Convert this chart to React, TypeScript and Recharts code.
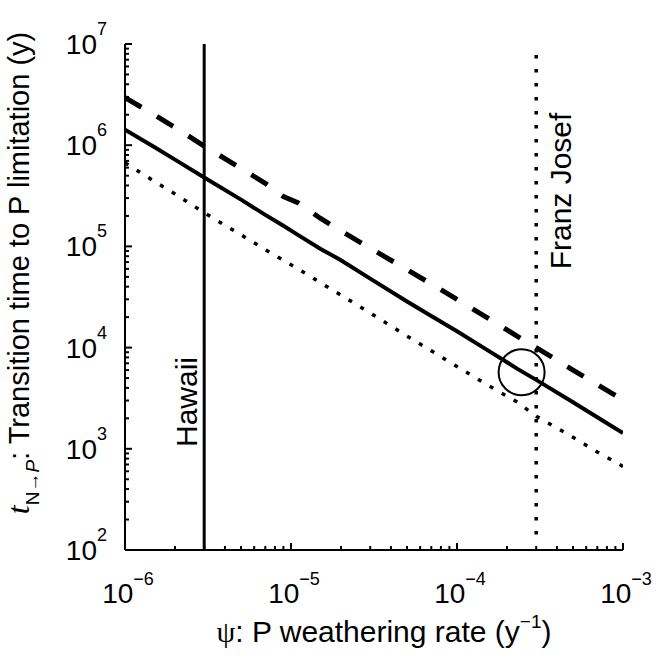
import React from 'react';
import { LineChart, Line, XAxis, YAxis, ReferenceLine, ReferenceDot, Label } from 'recharts';

const FONT = '"Liberation Sans", Arial, Helvetica, sans-serif';

// psi: P weathering rate (1/y)
const psi = [1e-6, 1.5e-6, 2e-6, 3e-6, 5e-6, 7e-6, 9e-6, 1.1e-5, 1.5e-5, 2e-5, 3e-5, 5e-5, 7e-5, 1e-4, 1.5e-4, 2.3e-4, 3e-4, 5e-4, 7e-4, 1e-3];
// transition time (y) for the three curves
const tSolid = [1.42e6, 9.6e5, 7.2e5, 4.8e5, 2.9e5, 2.05e5, 1.6e5, 1.3e5, 9.5e4, 7.3e4, 4.8e4, 2.85e4, 2.05e4, 1.45e4, 9.6e3, 6.2e3, 4.8e3, 2.88e3, 2.05e3, 1.43e3];
const tDashed = [2.95e6, 2.0e6, 1.5e6, 9.8e5, 5.9e5, 4.2e5, 3.1e5, 2.7e5, 1.9e5, 1.42e5, 9.6e4, 5.9e4, 4.25e4, 3.0e4, 2.0e4, 1.3e4, 1.0e4, 6.0e3, 4.3e3, 3.05e3];
const tDotted = [6.7e5, 4.4e5, 3.3e5, 2.15e5, 1.3e5, 9.3e4, 7.3e4, 6.0e4, 4.4e4, 3.3e4, 2.2e4, 1.3e4, 9.3e3, 6.5e3, 4.35e3, 2.9e3, 2.1e3, 1.3e3, 9.3e2, 6.7e2];

const hawaiiPsi = 3e-6;
const franzPsi = 3e-4;
const circlePoint = { x: 2.45e-4, y: 5.7e3 };

const xMajor = [1e-6, 1e-5, 1e-4, 1e-3];
const xExp = ['\u22126', '\u22125', '\u22124', '\u22123'];
const yMajor = [1e2, 1e3, 1e4, 1e5, 1e6, 1e7];
const yExp = ['2', '3', '4', '5', '6', '7'];
const minorMult = [2, 3, 4, 5, 6, 7, 8, 9];

const withMinor = (majors: number[]) => {
  const out: number[] = [];
  majors.forEach((m, i) => {
    out.push(m);
    if (i < majors.length - 1) minorMult.forEach(k => out.push(m * k));
  });
  return out;
};
const xTicks = withMinor(xMajor);
const yTicks = withMinor(yMajor);

const rows = psi.map((x, i) => ({ x, solid: tSolid[i], dashed: tDashed[i], dotted: tDotted[i] }));

const majorIndex = (v: number, majors: number[]) => majors.findIndex(m => Math.abs(v / m - 1) < 1e-6);

function XTick({ x, y, payload }: any) {
  const i = majorIndex(payload.value, xMajor);
  return (
    <g>
      <line x1={x} x2={x} y1={y} y2={y - (i >= 0 ? 7 : 4)} stroke="#000" strokeWidth={2} />
      {i >= 0 && (
        <text x={x + 3} y={y + 53} textAnchor="middle" fontFamily={FONT} fontSize={28} fill="#000">
          10<tspan fontSize={18} dy={-18}>{xExp[i]}</tspan>
        </text>
      )}
    </g>
  );
}

function YTick({ x, y, payload }: any) {
  const i = majorIndex(payload.value, yMajor);
  return (
    <g>
      <line x1={x} x2={x + (i >= 0 ? 7 : 4)} y1={y} y2={y} stroke="#000" strokeWidth={2} />
      {i >= 0 && (
        <text x={x - 18} y={y + 10} textAnchor="end" fontFamily={FONT} fontSize={28} fill="#000">
          10<tspan fontSize={18} dy={-19}>{yExp[i]}</tspan>
        </text>
      )}
    </g>
  );
}

const YTitle = () => (
  <text x={29} y={273} transform="rotate(-90, 29, 273)" textAnchor="middle" fontFamily={FONT} fontSize={29} fill="#000">
    <tspan fontStyle="italic" fontFamily='"Liberation Serif", serif' fontSize={32}>t</tspan>
    <tspan fontSize={19} dy={10}>N→</tspan>
    <tspan fontSize={19} fontStyle="italic">P</tspan>
    <tspan dy={-10}>: Transition time to P limitation (y)</tspan>
  </text>
);

const XTitle = () => (
  <text x={384} y={642} textAnchor="middle" fontFamily={FONT} fontSize={30} fill="#000">
    <tspan fontFamily='"Liberation Serif", serif'>ψ</tspan>
    <tspan>: P weathering rate (y</tspan>
    <tspan fontSize={19} dy={-14}>−1</tspan>
    <tspan dy={14}>)</tspan>
  </text>
);

const SiteLabel = ({ viewBox, text, dx, cy }: any) => {
  const x = viewBox.x + dx;
  return (
    <text x={x} y={cy} transform={`rotate(-90, ${x}, ${cy})`} textAnchor="middle" fontFamily={FONT} fontSize={30} fill="#000">
      {text}
    </text>
  );
};

export default function App() {
  return (
    <div style={{ position: 'absolute', left: 0, top: 0, background: '#fff' }}>
      <LineChart width={658} height={664} data={rows} margin={{ top: 44, right: 35, bottom: 0, left: 0 }}>
        <XAxis dataKey="x" type="number" scale="log" domain={[1e-6, 1e-3]} allowDataOverflow
          ticks={xTicks} interval={0} tick={<XTick />} tickSize={0} tickMargin={0} tickLine={false}
          height={114} axisLine={{ stroke: '#000', strokeWidth: 2 }}>
          <Label content={<XTitle />} />
        </XAxis>
        <YAxis type="number" scale="log" domain={[1e2, 1e7]} allowDataOverflow
          ticks={yTicks} interval={0} tick={<YTick />} tickSize={0} tickMargin={0} tickLine={false}
          width={125} axisLine={{ stroke: '#000', strokeWidth: 2 }}>
          <Label content={<YTitle />} />
        </YAxis>
        <ReferenceLine x={hawaiiPsi} stroke="#000" strokeWidth={3}
          label={<SiteLabel text="Hawaii" dx={-7} cy={402} />} />
        <ReferenceLine segment={[{ x: franzPsi, y: 7.8e6 }, { x: franzPsi, y: 1.4e2 }]}
          stroke="#000" strokeWidth={3.5} strokeDasharray="3.5 10.5"
          label={<SiteLabel text="Franz Josef" dx={35} cy={191} />} />
        <Line dataKey="dotted" type="linear" stroke="#000" strokeWidth={3.5} strokeDasharray="4 9.8"
          dot={false} isAnimationActive={false} />
        <Line dataKey="dashed" type="linear" stroke="#000" strokeWidth={5} strokeDasharray="19 18"
          dot={false} isAnimationActive={false} />
        <Line dataKey="solid" type="linear" stroke="#000" strokeWidth={4} dot={false} isAnimationActive={false} />
        <ReferenceDot x={circlePoint.x} y={circlePoint.y} r={23} fill="none" stroke="#000" strokeWidth={2} />
      </LineChart>
    </div>
  );
}
